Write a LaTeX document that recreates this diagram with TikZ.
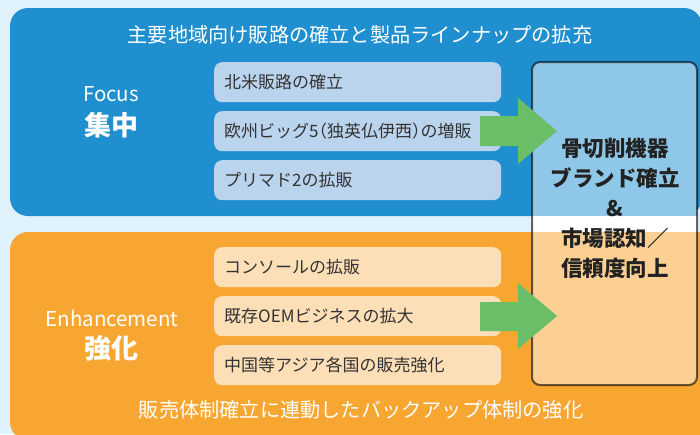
\documentclass[tikz,border=0pt]{standalone}
\usepackage{fontspec}
\setmainfont{Noto Sans CJK JP}
\usetikzlibrary{positioning}
\definecolor{bgc}{HTML}{E0F2FB}
\definecolor{bluebox}{HTML}{1F8FD0}
\definecolor{blueitem}{HTML}{BBD4EE}
\definecolor{orangebox}{HTML}{F8A632}
\definecolor{orangeitem}{HTML}{FDDFB7}
\definecolor{restop}{HTML}{8EC7E8}
\definecolor{resbot}{HTML}{FCD093}
\definecolor{arrowgreen}{HTML}{6BBE68}
\definecolor{itemtext}{HTML}{333333}
\definecolor{restext}{HTML}{222222}
\newcommand{\halfpunct}[1]{{\addfontfeature{RawFeature=+halt}#1}}
\tikzset{
  itembox/.style={anchor=north west, rounded corners=8pt, minimum width=287pt, minimum height=40pt,
    text width=267pt, inner xsep=10pt, inner ysep=0pt, align=left, text=itemtext, font=\fontsize{17}{19}\selectfont},
  blueitembox/.style={itembox, fill=blueitem},
  orangeitembox/.style={itembox, fill=orangeitem},
  headtext/.style={text=white, font=\fontsize{20.2}{22}\selectfont, inner sep=0pt},
  engtext/.style={text=white, font=\fontsize{20.5}{22}\selectfont, inner sep=0pt},
  jptitle/.style={text=white, font=\fontsize{27}{30}\bfseries\selectfont, inner sep=0pt},
  greenarrow/.style={fill=arrowgreen, draw=none},
}
\begin{document}
\begin{tikzpicture}[x=1pt,y=-1pt]
\useasboundingbox (0,0) rectangle (700,434);
\fill[bgc] (0,0) rectangle (700,434);
% big panels
\fill[bluebox, rounded corners=18pt] (10,8) rectangle (702,216);
\fill[orangebox, rounded corners=18pt] (10,232) rectangle (720,440);
% headings
\node[headtext] (title) at (360,35) {主要地域向け販路の確立と製品ラインナップの拡充};
\node[headtext] (bottom) at (361,410) {販売体制確立に連動したバックアップ体制の強化};
\node[engtext] (focus) at (111,94) {Focus};
\node[jptitle] (shuchu) at (111,125) {集中};
\node[engtext] (enh) at (112,318) {Enhancement};
\node[jptitle] (kyoka) at (111,348) {強化};
% items
\node[blueitembox] (b1) at (214,62) {北米販路の確立};
\node[blueitembox] (b2) at (214,111) {欧州ビッグ5\halfpunct{（}独英仏伊西\halfpunct{）}の増販};
\node[blueitembox] (b3) at (214,160) {プリマド2の拡販};
\node[orangeitembox] (o1) at (214,247) {コンソールの拡販};
\node[orangeitembox] (o2) at (214,296) {既存OEMビジネスの拡大};
\node[orangeitembox] (o3) at (214,345) {中国等アジア各国の販売強化};
% result box
\begin{scope}
\clip[rounded corners=8pt] (532,62) rectangle (697,385);
\fill[restop] (530,60) rectangle (700,216);
\fill[white] (530,216) rectangle (700,232);
\fill[resbot] (530,232) rectangle (700,390);
\end{scope}
\draw[black, opacity=0.6, line width=2pt, rounded corners=8pt] (532,62) rectangle (697,385);
\node[text=restext, font=\fontsize{21.5}{30}\bfseries\selectfont, align=center, inner sep=0pt] (result) at (615,208)
  {骨切削機器\\ブランド確立\\\&\\市場認知／\\信頼度向上};
% arrows
\fill[greenarrow] (480,116) -- (518,116) -- (518,98) -- (557,131) -- (518,164) -- (518,146) -- (480,146) -- cycle;
\fill[greenarrow] (480,302) -- (518,302) -- (518,283) -- (557,316) -- (518,349) -- (518,331) -- (480,331) -- cycle;
\end{tikzpicture}
\end{document}
